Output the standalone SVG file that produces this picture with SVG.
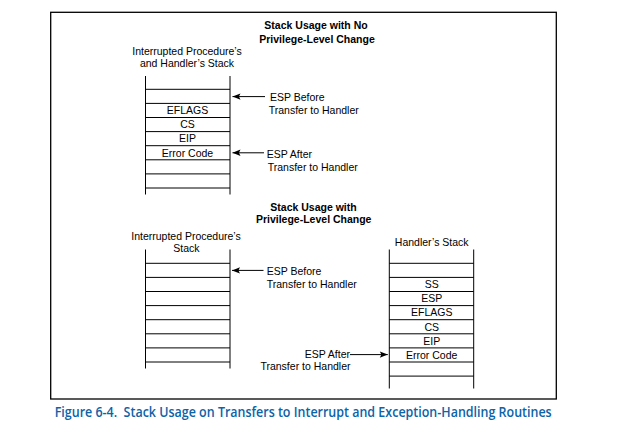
<svg xmlns="http://www.w3.org/2000/svg" width="633" height="438" viewBox="0 0 633 438">
<style>
  .t { font-family: "Liberation Sans", Arial, sans-serif; font-size: 10.5px; fill: #000; }
  .b { font-weight: bold; }
  .m { text-anchor: middle; }
  .e { text-anchor: end; }
  .ln { stroke: #000; stroke-width: 1; fill: none; }
  .cap { font-family: "Open Sans", "Noto Sans", sans-serif; font-weight: 600; font-size: 14px; fill: #0b63a8; white-space: pre; }
</style>
<defs>
  <marker id="ah" markerUnits="userSpaceOnUse" markerWidth="10" markerHeight="8" viewBox="0 0 10 8" refX="9" refY="4" orient="auto">
    <path d="M9,4 L1,0.8 L2.6,4 L1,7.2 Z" fill="#000"/>
  </marker>
</defs>
<rect x="50.7" y="12.3" width="505.6" height="386.7" fill="none" stroke="#000" stroke-width="1.3"/>

<g id="title-top">
  <text class="t b m" x="316" y="28.5">Stack Usage with No</text>
  <text class="t b m" x="317" y="42.5">Privilege-Level Change</text>
</g>

<g id="stack-top">
  <text class="t m" x="187" y="55">Interrupted Procedure’s</text>
  <text class="t m" x="187" y="67">and Handler’s Stack</text>
  <path class="ln" d="M145.5,76 V194.5 M230,76 V194.5 M145.5,89.3 H230 M145.5,103.4 H230 M145.5,117.5 H230 M145.5,131.6 H230 M145.5,145.7 H230 M145.5,159.8 H230 M145.5,173.9 H230 M145.5,188 H230"/>
  <text class="t m" x="187.5" y="114.2">EFLAGS</text>
  <text class="t m" x="187.5" y="128.3">CS</text>
  <text class="t m" x="187.5" y="142.4">EIP</text>
  <text class="t m" x="187.5" y="156.5">Error Code</text>
</g>

<g id="label-top-before">
  <text class="t" x="270" y="101">ESP Before</text>
  <text class="t" x="268.7" y="113.7">Transfer to Handler</text>
</g>
<g id="label-top-after">
  <text class="t" x="266.7" y="158">ESP After</text>
  <text class="t" x="267.7" y="170.7">Transfer to Handler</text>
</g>

<g id="title-bottom">
  <text class="t b m" x="313.5" y="211">Stack Usage with</text>
  <text class="t b m" x="313.7" y="222.5">Privilege-Level Change</text>
</g>

<g id="stack-interrupted">
  <text class="t m" x="186" y="240">Interrupted Procedure’s</text>
  <text class="t m" x="186.5" y="252">Stack</text>
  <path class="ln" d="M145.5,249.5 V368.5 M230,249.5 V368.5 M145.5,263.3 H230 M145.5,277.4 H230 M145.5,291.5 H230 M145.5,305.6 H230 M145.5,319.7 H230 M145.5,333.8 H230 M145.5,347.9 H230 M145.5,362 H230"/>
</g>

<g id="label-bottom-before">
  <text class="t" x="266.7" y="275.3">ESP Before</text>
  <text class="t" x="266.7" y="287.5">Transfer to Handler</text>
</g>

<g id="stack-handler">
  <text class="t m" x="431.7" y="245.5">Handler’s Stack</text>
  <path class="ln" d="M389.3,249.5 V388.5 M473.7,249.5 V388.5 M389.3,263.3 H473.7 M389.3,277.4 H473.7 M389.3,291.5 H473.7 M389.3,305.6 H473.7 M389.3,319.7 H473.7 M389.3,333.8 H473.7 M389.3,347.9 H473.7 M389.3,362 H473.7 M389.3,376.1 H473.7"/>
  <text class="t m" x="431.7" y="288.2">SS</text>
  <text class="t m" x="431.7" y="302.3">ESP</text>
  <text class="t m" x="431.7" y="316.4">EFLAGS</text>
  <text class="t m" x="431.7" y="330.5">CS</text>
  <text class="t m" x="431.7" y="344.6">EIP</text>
  <text class="t m" x="431.7" y="358.7">Error Code</text>
</g>

<g id="label-bottom-after">
  <text class="t e" x="350" y="357.8">ESP After</text>
  <text class="t e" x="350.5" y="370.3">Transfer to Handler</text>
</g>

<g id="connectors">
  <line class="ln" x1="265" y1="96.6" x2="232.5" y2="96.6" marker-end="url(#ah)"/>
  <line class="ln" x1="264" y1="152.8" x2="232.5" y2="152.8" marker-end="url(#ah)"/>
  <line class="ln" x1="263.5" y1="270.4" x2="232" y2="270.4" marker-end="url(#ah)"/>
  <line class="ln" x1="350" y1="354.6" x2="387.8" y2="354.6" marker-end="url(#ah)"/>
</g>

<text class="cap" x="54.7" y="416.7" xml:space="preserve" textLength="497" lengthAdjust="spacingAndGlyphs">Figure 6-4.  Stack Usage on Transfers to Interrupt and Exception-Handling Routines</text>
</svg>
